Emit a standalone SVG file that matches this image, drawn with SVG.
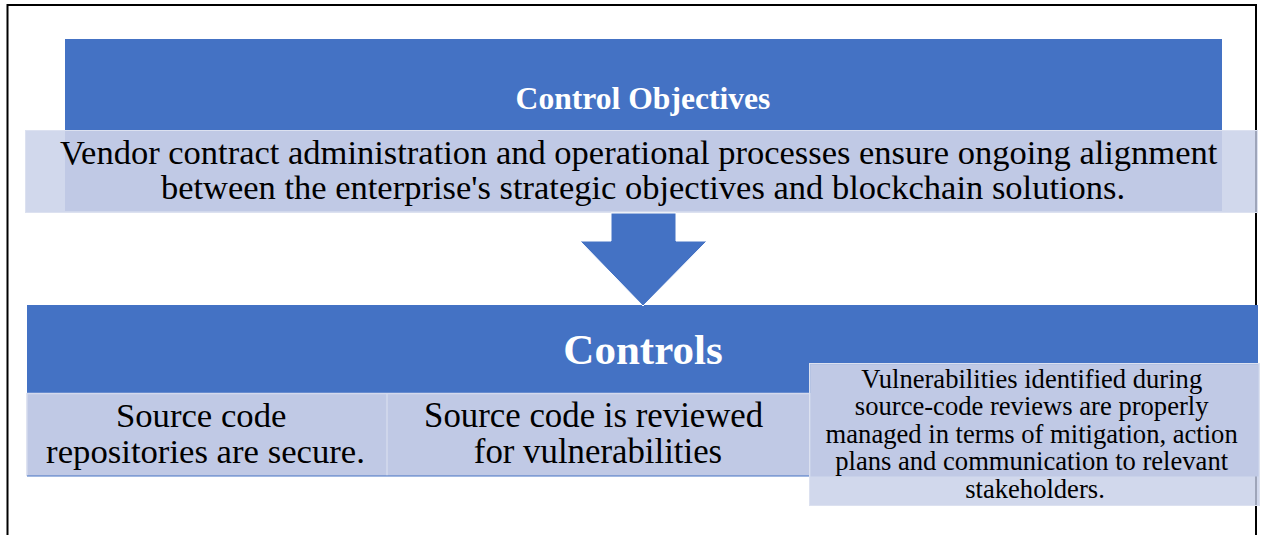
<svg xmlns="http://www.w3.org/2000/svg" width="1261" height="535" viewBox="0 0 1261 535">
  <style>
    .bar { fill: #4472C4; }
    .cell { fill: #C0C9E5; }
    .veil { fill: #C6CEE7; fill-opacity: 0.8; stroke: #DCE1F0; stroke-width: 1; }
    .sep { stroke: #D4DAED; stroke-width: 1.5; }
    .head { font-family: "Liberation Serif", "Times New Roman", serif; font-weight: bold; fill: #FFFFFF; text-anchor: middle; }
    .body { font-family: "Liberation Serif", "Times New Roman", serif; fill: #000000; text-anchor: middle; }
  </style>

  <rect x="0" y="0" width="1261" height="535" fill="#FFFFFF"/>
  <!-- page frame -->
  <rect x="7.5" y="5" width="1248.5" height="600" fill="none" stroke="#000000" stroke-width="2"/>

  <!-- objectives block -->
  <g id="control-objectives">
    <rect class="bar" x="65" y="39" width="1157" height="91.5"/>
    <text class="head" x="643" y="108.5" font-size="31.6">Control Objectives</text>
    <rect class="veil" x="25.5" y="130.5" width="1232" height="82"/>
    <rect class="cell" x="65" y="131" width="1157" height="80"/>
    <text class="body" font-size="34.5">
      <tspan x="643" y="163.5">Vendor contract administration and operational processes ensure ongoing alignment</tspan>
      <tspan x="643" y="198.5">between the enterprise's strategic objectives and blockchain solutions.</tspan>
    </text>
  </g>

  <!-- controls header -->
  <g id="controls">
    <rect class="bar" x="27" y="305" width="1231" height="88"/>
    <text class="head" x="643" y="364" font-size="43">Controls</text>
  </g>

  <g id="control-repositories">
    <rect class="cell" x="27" y="393" width="360" height="83"/>
    <line class="sep" x1="27" y1="393" x2="27" y2="476"/>
    <line class="sep" x1="27" y1="393.5" x2="387" y2="393.5"/>
    <text class="body" font-size="34.7">
      <tspan x="205.5" y="427">Source code</tspan>
      <tspan x="205.5" y="463">repositories are secure.</tspan>
    </text>
  </g>

  <g id="control-review">
    <rect class="cell" x="387" y="393" width="423" height="83"/>
    <line class="sep" x1="387" y1="393" x2="387" y2="476"/>
    <line class="sep" x1="387" y1="393.5" x2="810" y2="393.5"/>
    <text class="body" font-size="34.8">
      <tspan x="598" y="427">Source code is reviewed</tspan>
      <tspan x="598" y="463">for vulnerabilities</tspan>
    </text>
  </g>
  <line x1="27" y1="476" x2="810" y2="476" stroke="#4472C4" stroke-width="1.2"/>

  <g id="control-remediation">
    <rect class="veil" x="809.5" y="363.5" width="450" height="142"/>
    <rect class="cell" x="810.5" y="364.5" width="448" height="112"/>
    <text class="body" font-size="26.6">
      <tspan x="1035" y="387.5">Vulnerabilities identified during</tspan>
      <tspan x="1035" y="415">source-code reviews are properly</tspan>
      <tspan x="1035" y="442.5">managed in terms of mitigation, action</tspan>
      <tspan x="1035" y="470">plans and communication to relevant</tspan>
      <tspan x="1035" y="497.5">stakeholders.</tspan>
    </text>
  </g>

  <!-- flow from objectives to controls -->
  <g id="connectors">
    <polygon points="611,213 676,213 676,241 707,241 643,306 580,241 611,241" fill="#4472C4" stroke="#FFFFFF" stroke-width="1"/>
  </g>
</svg>
